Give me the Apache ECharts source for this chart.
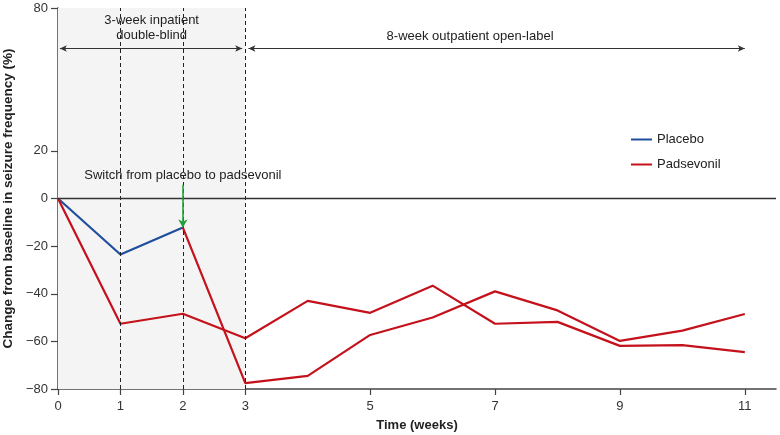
<!DOCTYPE html>
<html>
<head>
<meta charset="utf-8">
<script src="https://cdn.jsdelivr.net/npm/echarts@6/dist/echarts.min.js"></script>
<style>
  html, body { margin: 0; padding: 0; background: #fff; }
  #chart { width: 780px; height: 435px; }
</style>
</head>
<body>
<div id="chart"></div>
<script>
var weeks = [0, 1, 2, 3, 4, 5, 6, 7, 8, 9, 10, 11];
var xTicks = [0, 1, 2, 3, 5, 7, 9, 11];
var yTicks = [-80, -60, -40, -20, 0, 20, 80];

// placebo during the double-blind phase (weeks 0-2)
var placebo = [0, -23.5, -12.2];
// padsevonil from baseline
var padsevonil = [0, -52.6, -48.4, -58.7, -43, -48, -36.6, -52.6, -51.8, -61.9, -61.6, -64.5];
// placebo patients switched to padsevonil at week 2
var switched = [null, null, -12.2, -77.5, -74.5, -57.3, -50, -39, -47, -59.8, -55.5, -48.5];

var phaseY = 63;
var font = 'Liberation Sans, Arial, sans-serif';

function pairs(vals) {
    var out = [];
    for (var i = 0; i < vals.length; i++) {
        if (vals[i] !== null) out.push([weeks[i], vals[i]]);
    }
    return out;
}

var chart = echarts.init(document.getElementById('chart'));

var option = {
    animation: false,
    textStyle: { fontFamily: font },
    grid: { left: 58, right: 4, top: 8, bottom: 46, outerBoundsMode: 'none' },
    legend: {
        data: ['Placebo', 'Padsevonil'],
        orient: 'vertical',
        left: 626,
        top: 128,
        icon: 'rect',
        itemWidth: 21,
        itemHeight: 2,
        itemGap: 12,
        textStyle: { fontSize: 13, color: '#222', fontFamily: font }
    },
    xAxis: {
        type: 'value',
        min: 0,
        max: 11.5,
        interval: 1,
        name: 'Time (weeks)',
        nameLocation: 'middle',
        nameGap: 30,
        nameTextStyle: { fontSize: 13, fontWeight: 'bold', color: '#222' },
        axisLine: { onZero: false, lineStyle: { color: '#444', width: 1.5 } },
        axisTick: { customValues: xTicks, length: 6, lineStyle: { color: '#444', width: 1.2 } },
        axisLabel: { customValues: xTicks, fontSize: 13, color: '#333', margin: 11 },
        splitLine: { show: false }
    },
    yAxis: {
        type: 'value',
        min: -80,
        max: 80,
        interval: 20,
        name: 'Change from baseline in seizure frequency (%)',
        nameLocation: 'middle',
        nameGap: 42,
        nameTextStyle: { fontSize: 13.5, fontWeight: 'bold', color: '#222' },
        axisLine: { show: true, onZero: false, lineStyle: { color: '#444', width: 1.5 } },
        axisTick: { show: true, customValues: yTicks, length: 7, lineStyle: { color: '#444', width: 1.2 } },
        axisLabel: {
            customValues: yTicks,
            fontSize: 13,
            color: '#333',
            margin: 10,
            formatter: function (v) { return String(v).replace('-', '\u2212'); }
        },
        splitLine: { show: false }
    },
    series: [
        {
            // annotations: shaded phase, dashed week lines, zero line, phase arrows
            name: 'annot',
            type: 'line',
            data: [],
            z: 1,
            silent: true,
            markArea: {
                silent: true,
                itemStyle: { color: '#f4f4f4' },
                data: [[{ xAxis: 0, yAxis: -80 }, { xAxis: 3, yAxis: 80 }]]
            },
            markLine: {
                silent: true,
                symbol: 'none',
                label: { show: false },
                data: [
                    { xAxis: 1, lineStyle: { type: [4, 3], color: '#222', width: 1 } },
                    { xAxis: 2, lineStyle: { type: [4, 3], color: '#222', width: 1 } },
                    { xAxis: 3, lineStyle: { type: [4, 3], color: '#222', width: 1 } },
                    { yAxis: 0, lineStyle: { type: 'solid', color: '#333', width: 1.3 } },
                    [
                        { coord: [0.03, phaseY], symbol: 'arrow', symbolSize: [5, 7], lineStyle: { type: 'solid', color: '#333', width: 1.2 } },
                        { coord: [2.95, phaseY], symbol: 'arrow', symbolSize: [5, 7] }
                    ],
                    [
                        { coord: [3.05, phaseY], symbol: 'arrow', symbolSize: [5, 7], lineStyle: { type: 'solid', color: '#333', width: 1.2 } },
                        { coord: [11, phaseY], symbol: 'arrow', symbolSize: [5, 7] }
                    ],
                    [
                        { coord: [2, 5.8], symbol: 'none', lineStyle: { type: 'solid', color: '#22a03a', width: 1.6 } },
                        { coord: [2, -12.2], symbol: 'arrow', symbolSize: [7, 8] }
                    ]
                ]
            },
            markPoint: {
                silent: true,
                symbolSize: 0,
                label: { show: true, color: '#222', fontSize: 13, fontFamily: font },
                data: [
                    { coord: [1.5, 71.5], value: '3-week inpatient\ndouble-blind', label: { lineHeight: 15 } },
                    { coord: [6.6, 68], value: '8-week outpatient open-label' },
                    { coord: [2, 9.5], value: 'Switch from placebo to padsevonil' }
                ]
            }
        },
        {
            name: 'Placebo',
            type: 'line',
            data: pairs(placebo),
            showSymbol: false,
            z: 3,
            itemStyle: { color: '#1f4e9e' },
            lineStyle: { color: '#1f4e9e', width: 2.2 }
        },
        {
            name: 'Padsevonil',
            type: 'line',
            data: pairs(padsevonil),
            showSymbol: false,
            z: 3,
            itemStyle: { color: '#c4111b' },
            lineStyle: { color: '#c4111b', width: 2.2 }
        },
        {
            name: 'Switched',
            type: 'line',
            data: pairs(switched),
            showSymbol: false,
            z: 3,
            itemStyle: { color: '#c4111b' },
            lineStyle: { color: '#c4111b', width: 2.2 }
        }
    ]
};

chart.setOption(option);
</script>
</body>
</html>
